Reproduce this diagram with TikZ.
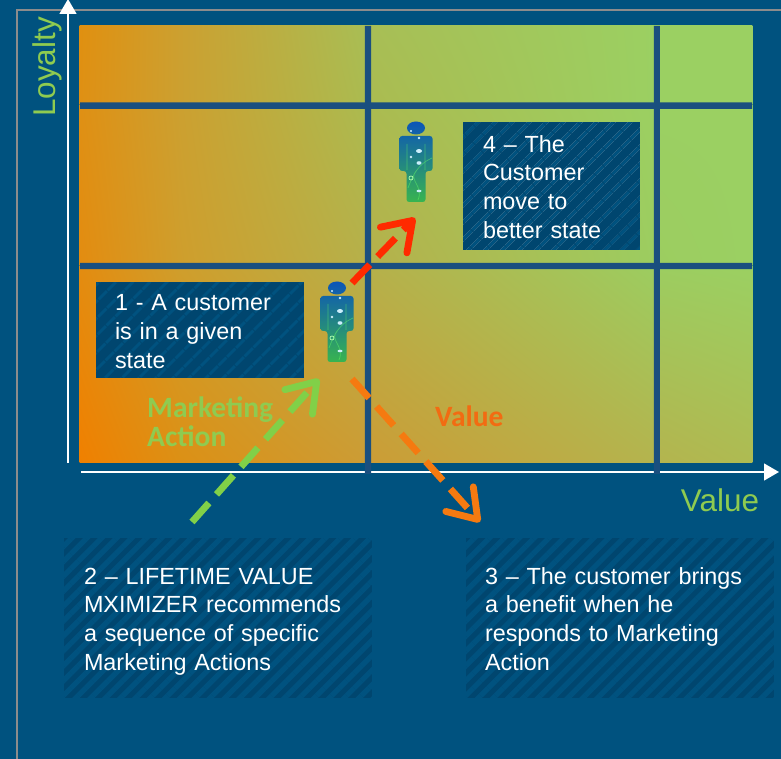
\documentclass[tikz,border=0pt]{standalone}
\usepackage{fontspec}
\setmainfont{Liberation Sans}
\newfontfamily\carlitofont{Carlito}
\usetikzlibrary{arrows.meta,shadings,patterns.meta}

\definecolor{bgblue}{HTML}{00527F}
\definecolor{gridblue}{HTML}{1A4F7F}
\definecolor{boxblue}{HTML}{00466F}
\definecolor{leafgreen}{HTML}{8FCB50}
\definecolor{redarrow}{HTML}{FF2A00}
\definecolor{orangearrow}{HTML}{F57A10}
\definecolor{valueorange}{HTML}{F26B12}
\definecolor{custtop}{HTML}{0C55B8}
\definecolor{custmid}{HTML}{1684C4}
\definecolor{custlow}{HTML}{38B450}
\definecolor{a0}{HTML}{E09010}\definecolor{a1}{HTML}{CCA030}\definecolor{a2}{HTML}{A8BE55}\definecolor{a3}{HTML}{9BD062}\definecolor{a4}{HTML}{9BD062}
\definecolor{b0}{HTML}{DF9014}\definecolor{b1}{HTML}{CCA030}\definecolor{b2}{HTML}{ABBB50}\definecolor{b3}{HTML}{9BD062}\definecolor{b4}{HTML}{9BD062}
\definecolor{c0}{HTML}{E38C10}\definecolor{c1}{HTML}{CF9E2C}\definecolor{c2}{HTML}{B6B04A}\definecolor{c3}{HTML}{9CCD60}\definecolor{c4}{HTML}{9BD062}
\definecolor{d0}{HTML}{F08000}\definecolor{d1}{HTML}{DC9015}\definecolor{d2}{HTML}{CC9C35}\definecolor{d3}{HTML}{B4B44E}\definecolor{d4}{HTML}{AEBB52}

\tikzset{
  infobox/.style 2 args={fill=boxblue, postaction={pattern={Lines[angle=45,distance=#1,line width=#2]}, pattern color=bgblue},
    text=white, align=left, inner sep=0pt, font=\fontsize{13.3}{16.4}\selectfont,
    execute at begin node={\rule{0pt}{15.5pt}}, execute at end node=\strut},
  dasharrow/.style={line width=3.9pt, dash pattern=on 14.5pt off 6.5pt, -{Straight Barb[round,length=15.5pt,width=21pt,line width=3.9pt]}},
  axisline/.style={white, line width=1.2pt, -{Triangle[length=8.5pt,width=9.5pt]}},
  axislabel/.style={leafgreen, font=\fontsize{17.9}{20}\selectfont},
  actionlabel/.style={font=\carlitofont\bfseries\fontsize{16.8}{16.4}\selectfont, align=left},
  customer/.pic={
    \shade[top color=custtop, middle color=custmid, bottom color=custlow]
      (0,0) ellipse [x radius=9, y radius=6.5]
      [rounded corners=1.5pt] (-16.5,8) -- (16.5,8) -- (16.5,43) -- (9.5,43) -- (9.5,74) -- (-9.5,74) -- (-9.5,43) -- (-16.5,43) -- cycle;
    \draw[green!60!white, opacity=0.45, line width=0.4pt] (-9,16) -- (-9,42) (9,16) -- (9,42) (0,43) .. controls (-8,52) and (8,58) .. (2,72) (16,30) .. controls (8,34) and (0,38) .. (-8,60);
    \fill[white!80!cyan] (-5,3) circle (1.2) (3,10) circle (1.3) (-5,29) circle (1.3) (3,35) ellipse [x radius=2.5, y radius=1.8] (3,23) ellipse [x radius=3, y radius=2] (3,63) ellipse [x radius=2.5, y radius=1.3];
    \draw[white!70!green, line width=0.4pt] (-5,50) circle (2);
  }
}

\begin{document}
\begin{tikzpicture}[x=0.02cm, y=-0.02cm]
  \useasboundingbox (0,0) rectangle (781,759);
  \fill[bgblue] (0,0) rectangle (781,759);

  % frame
  \coordinate (frameA) at (17,759);
  \coordinate (frameB) at (17,10);
  \coordinate (frameC) at (781,10);
  \draw[gray!90!white, line width=0.9pt] (frameA) -- (frameB) -- (frameC);

  % field
  \foreach \xa/\xb/\i/\j in {80/180/0/1, 180/368/1/2, 368/656/2/3, 656/752/3/4}
    \foreach \ya/\yb/\r/\s in {26/105/a/b, 105/266/b/c, 266/463/c/d}
      \shade[upper left=\r\i, upper right=\r\j, lower left=\s\i, lower right=\s\j] (\xa-0.3,\ya) rectangle (\xb+0.3,\yb);

  % axes
  \coordinate (yaxisA) at (68,463);
  \coordinate (yaxisB) at (68,-1);
  \coordinate (xaxisA) at (81,472);
  \coordinate (xaxisB) at (779,472);
  \draw[axisline] (yaxisA) -- (yaxisB);
  \draw[axisline] (xaxisA) -- (xaxisB);

  % grid lines
  \fill[gridblue] (80,102.5) rectangle (752,108.8) (80,262.8) rectangle (752,269.2);
  \fill[gridblue] (364.8,26) rectangle (371.2,474) (653.8,26) rectangle (659.8,474);

  \node[axislabel, rotate=90] (loyalty) at (47,67) {Loyalty};
  \node[axislabel] (valueaxis) at (720,500) {Value};

  \node[infobox={7.4pt}{1.8pt}, minimum width=4.16cm, minimum height=1.92cm, text width=3.4cm] (stepone) at (200,330) {1 - A customer\\is in a given\\state};
  \node[infobox={7.4pt}{1.8pt}, minimum width=3.54cm, minimum height=2.56cm, text width=2.74cm] (stepfour) at (551.5,186) {4 -- The\\Customer\\move to\\better state};
  \node[infobox={6pt}{3pt}, minimum width=6.16cm, minimum height=3.2cm, text width=5.36cm] (steptwo) at (218,618) {2 -- LIFETIME VALUE\\MXIMIZER recommends\\a sequence of specific\\Marketing Actions};
  \node[infobox={6pt}{3pt}, minimum width=6.16cm, minimum height=3.2cm, text width=5.4cm] (stepthree) at (620,618) {3 -- The customer brings\\a benefit when he\\responds to Marketing\\Action};

  \pic (custA) at (337,288) {customer};
  \pic (custB) at (416,128) {customer};

  \node[actionlabel, leafgreen, anchor=west] (action) at (141,421.5) {Marketing\\Action};
  \node[actionlabel, valueorange, anchor=west] (value) at (429,416) {Value};

  \coordinate (greenA) at (192,522);
  \coordinate (greenB) at (319,379);
  \coordinate (redA) at (352,283);
  \coordinate (redB) at (415,218);
  \coordinate (orangeA) at (352,379);
  \coordinate (orangeB) at (480,522);
  \draw[dasharrow, leafgreen!90!green] (greenA) -- (greenB);
  \draw[dasharrow, redarrow] (redA) -- (redB);
  \draw[dasharrow, orangearrow] (orangeA) -- (orangeB);
\end{tikzpicture}
\end{document}
